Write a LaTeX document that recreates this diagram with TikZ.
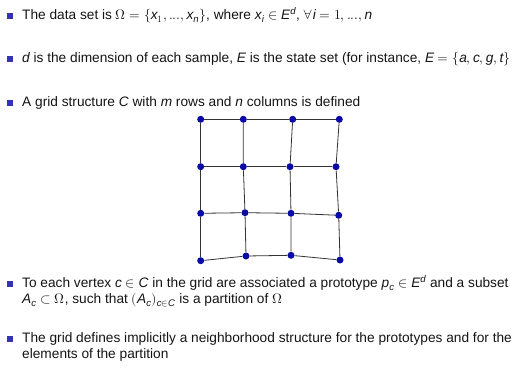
\documentclass[tikz,border=0pt]{standalone}
\usepackage{fontspec}
\usepackage{unicode-math}
\setmainfont{Liberation Sans}
\setmathfont{Latin Modern Math}
\setmathfont{Liberation Sans Italic}[range=it->up]
\definecolor{bulletblue}{RGB}{51,51,179}
\definecolor{dotblue}{RGB}{10,10,165}
\definecolor{txt}{RGB}{20,20,20}
\begin{document}
\begin{tikzpicture}[x=1pt,y=-1pt,
  txtline/.style={anchor=base west,inner sep=0pt,text=txt,font=\fontsize{13.7}{16}\selectfont},
  bul/.style={fill=bulletblue,minimum size=6pt,inner sep=0pt,draw=none},
  vtx/.style={circle,fill=dotblue,minimum width=7pt,minimum height=7pt,inner sep=0pt},
  gridline/.style={draw=black!80,line width=0.8pt}]
\useasboundingbox (0,0) rectangle (516,367);
% bullets
\node[bul] (b1) at (9.5,15.5) {};
\node[bul] (b2) at (9.5,59) {};
\node[bul] (b3) at (9.5,102.5) {};
\node[bul] (b4) at (9.5,284) {};
\node[bul] (b6) at (9.5,339) {};
% text
\node[txtline] (t1) at (22,19) {The data set is $\Omega = \{x_1, ..., x_n\}$, where $x_i \in E^d$, $\forall i = 1, ..., n$};
\node[txtline] (t2) at (22,62.5) {$d$ is the dimension of each sample, $E$ is the state set (for instance, $E = \{a, c, g, t\}$};
\node[txtline] (t3) at (22,106) {A grid structure $C$ with $m$ rows and $n$ columns is defined};
\node[txtline] (t4) at (22,287.5) {To each vertex $c \in C$ in the grid are associated a prototype $p_c \in E^d$ and a subset};
\node[txtline] (t5) at (22,303) {$A_c \subset \Omega$, such that $(A_c)_{c\in C}$ is a partition of $\Omega$};
\node[txtline] (t6) at (22,342.5) {The grid defines implicitly a neighborhood structure for the prototypes and for the};
\node[txtline] (t7) at (22,358) {elements of the partition};
% grid vertices
\node[vtx] (v11) at (200.7,119.3) {};
\node[vtx] (v12) at (243.3,119.3) {};
\node[vtx] (v13) at (292.7,119.3) {};
\node[vtx] (v14) at (339.3,119.3) {};
\node[vtx] (v21) at (200.7,166.7) {};
\node[vtx] (v22) at (243.3,166.7) {};
\node[vtx] (v23) at (290,166.7) {};
\node[vtx] (v24) at (336,166.7) {};
\node[vtx] (v31) at (200.7,213.3) {};
\node[vtx] (v32) at (245,212.7) {};
\node[vtx] (v33) at (291,213.3) {};
\node[vtx] (v34) at (338.7,215.3) {};
\node[vtx] (v41) at (200.7,260.7) {};
\node[vtx] (v42) at (246,256) {};
\node[vtx] (v43) at (291,255.3) {};
\node[vtx] (v44) at (340,260) {};
% grid edges
\foreach \r in {1,2,3,4}{
  \draw[gridline] (v\r1) -- (v\r2) -- (v\r3) -- (v\r4);
}
\foreach \c in {1,2,3,4}{
  \draw[gridline] (v1\c) -- (v2\c) -- (v3\c) -- (v4\c);
}
\end{tikzpicture}
\end{document}
